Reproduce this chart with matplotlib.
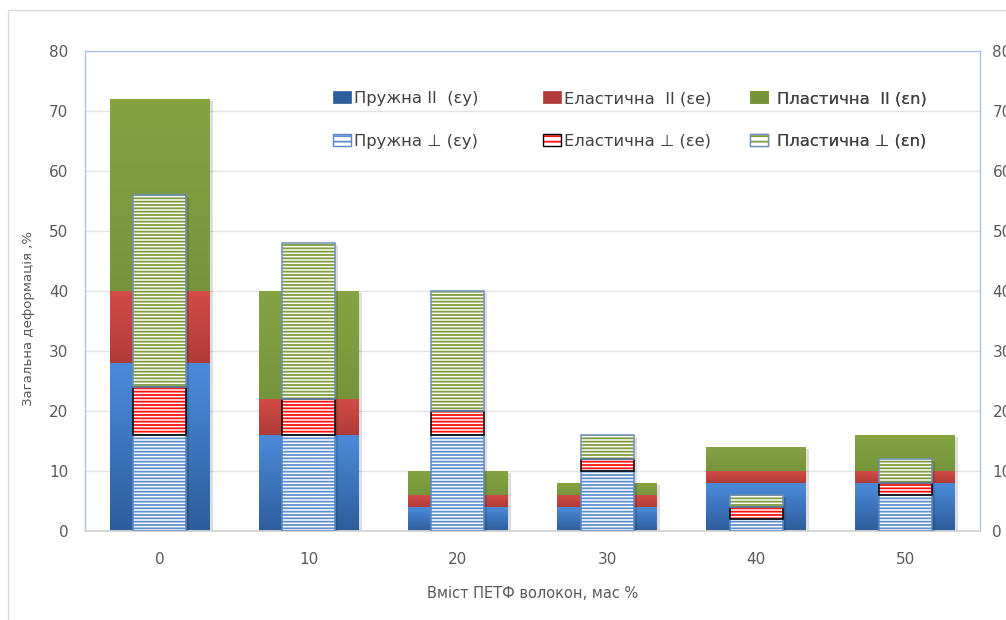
import numpy as np
import matplotlib
matplotlib.use('Agg')
import matplotlib.pyplot as plt
from matplotlib.colors import LinearSegmentedColormap
from matplotlib.patches import Patch, Rectangle
from matplotlib.transforms import offset_copy

# Вміст ПЕТФ волокон, мас %
vmist = ['0', '10', '20', '30', '40', '50']

# Деформація вздовж волокон (II), %
pruzhna_par = [28, 16, 4, 4, 8, 8]
elast_par = [12, 6, 2, 2, 2, 2]
plast_par = [32, 18, 4, 2, 4, 6]

# Деформація поперек волокон (⊥), %
pruzhna_perp = [16, 16, 16, 10, 2, 6]
elast_perp = [8, 6, 4, 2, 2, 2]
plast_perp = [32, 26, 20, 4, 2, 4]

labels_par = ['Пружна II  (εy)', 'Еластична  II (εe)', 'Пластична  II (εn)']
labels_perp = ['Пружна ⊥ (εy)', 'Еластична ⊥ (εe)', 'Пластична ⊥ (εn)']

# кольори: (верх градієнта, низ градієнта)
grad_colors = [('#4C8BDA', '#2D5D9C'), ('#D24C48', '#B03B38'), ('#84A444', '#76953A')]
stripe_colors = ['#5F8FD0', '#FF1010', '#7E9C3E']
border_colors = ['#5B87C4', '#000000', '#6F8FB8']

W, H = 1006, 620
plt.rcParams['hatch.linewidth'] = 1.3
plt.rcParams['font.family'] = ['DejaVu Sans']

fig = plt.figure(figsize=(W / 100, H / 100), dpi=100)
ax = fig.add_axes([85 / W, 1 - 531 / H, (980 - 85) / W, (531 - 51) / H])

x = np.arange(len(vmist))
wide, narrow = 0.67, 0.355


def gradient_bars(ax, heights, bottoms, width, c_top, c_bot, z):
    cmap = LinearSegmentedColormap.from_list('grad', [c_bot, c_top])
    grad = np.linspace(0, 1, 100).reshape(-1, 1)
    bars = ax.bar(x, heights, width, bottom=bottoms, color=c_bot, linewidth=0, zorder=z)
    for b in bars:
        x0, y0 = b.get_x(), b.get_y()
        ax.imshow(grad, extent=(x0, x0 + b.get_width(), y0, y0 + b.get_height()),
                  origin='lower', cmap=cmap, aspect='auto', zorder=z + 0.01,
                  interpolation='bilinear')
    return bars


def striped_bars(ax, heights, bottoms, width, stripe, border, z):
    ax.bar(x, heights, width, bottom=bottoms, color='white', edgecolor=stripe,
           hatch='-----', linewidth=0, zorder=z)
    ax.bar(x, heights, width, bottom=bottoms, fill=False, edgecolor=border,
           linewidth=1.1, zorder=z + 0.02)


# тіні під стовпчиками
shadow = offset_copy(ax.transData, fig=fig, x=3, y=-2, units='dots')
tot_par = np.add(np.add(pruzhna_par, elast_par), plast_par)
tot_perp = np.add(np.add(pruzhna_perp, elast_perp), plast_perp)
ax.bar(x, tot_par, wide, color='black', alpha=0.13, linewidth=0, zorder=1.9, transform=shadow)
ax.bar(x, tot_perp, narrow, color='black', alpha=0.13, linewidth=0, zorder=2.9, transform=shadow)

# широкі стовпчики - вздовж волокон
bottom = np.zeros(len(x))
for vals, (ct, cb) in zip([pruzhna_par, elast_par, plast_par], grad_colors):
    gradient_bars(ax, vals, bottom, wide, ct, cb, 2)
    bottom = bottom + np.array(vals)

# вузькі смугасті стовпчики - поперек волокон
bottom = np.zeros(len(x))
for vals, sc, bc in zip([pruzhna_perp, elast_perp, plast_perp], stripe_colors, border_colors):
    striped_bars(ax, vals, bottom, narrow, sc, bc, 3)
    bottom = bottom + np.array(vals)

ax.set_xlim(-0.5, len(x) - 0.5)
ax.set_ylim(0, 80)
ax.set_yticks(range(0, 81, 10))
ax.set_xticks(x)
ax.set_xticklabels(vmist)
ax.grid(axis='y', color='#E3E3E3', linewidth=1)
ax.set_axisbelow(True)
ax.tick_params(axis='y', length=0, pad=12, labelsize=11, labelcolor='#595959')
ax.tick_params(axis='x', length=0, pad=15, labelsize=11, labelcolor='#595959')
for s in ['left', 'top', 'right']:
    ax.spines[s].set_color('#A9C4E8')
    ax.spines[s].set_linewidth(1)
ax.spines['bottom'].set_color('#D4D4D4')
ax.spines['bottom'].set_linewidth(1.3)

# права вісь (підписи обрізані краєм рисунка)
ax2 = ax.twinx()
ax2.set_ylim(0, 80)
ax2.set_yticks(range(0, 81, 10))
ax2.tick_params(axis='y', length=0, pad=9, labelsize=11, labelcolor='#595959')
for s in ax2.spines.values():
    s.set_visible(False)

# легенда: три колонки по два рядки
legend_x = [333, 543, 750]
text_pad = [0.2, 0.2, 0.55]
for j in range(3):
    ct, cb = grad_colors[j]
    h_par = Patch(facecolor=cb, edgecolor=cb, linewidth=0.5)
    h_perp = (Patch(facecolor='white', edgecolor=stripe_colors[j], hatch='---', linewidth=0),
              Patch(fill=False, edgecolor=border_colors[j], linewidth=1))
    leg = ax.legend([h_par, h_perp], [labels_par[j], labels_perp[j]], loc='upper left',
                    bbox_to_anchor=(legend_x[j] / W, 1 - 91 / H), bbox_transform=fig.transFigure,
                    frameon=False, fontsize=11.8, handlelength=1.1, handleheight=0.73,
                    handletextpad=text_pad[j], labelspacing=1.7, borderpad=0, borderaxespad=0,
                    labelcolor='#404040')
    ax.add_artist(leg)

fig.text(533 / W, 1 - 593 / H, 'Вміст ПЕТФ волокон, мас %', ha='center', va='center',
         fontsize=10.5, color='#595959')
fig.text(29 / W, 1 - 318 / H, 'Загальна деформація ,%', ha='center', va='center',
         rotation=90, fontsize=9.5, color='#595959')

# рамка діаграми
fig.patches.append(Rectangle((8 / W, -0.1), 1.2, 1.1 - 10 / H, transform=fig.transFigure,
                             fill=False, edgecolor='#D9D9D9', linewidth=1))

fig.savefig('out.png', dpi=100)
